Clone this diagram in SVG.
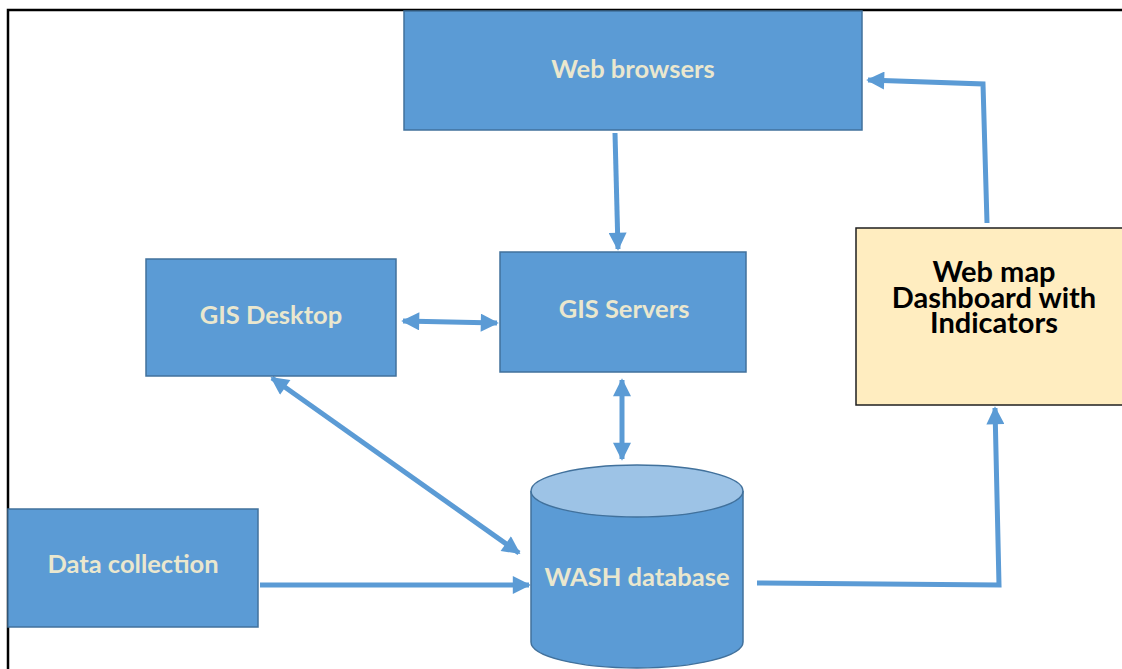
<svg xmlns="http://www.w3.org/2000/svg" width="1122" height="669" viewBox="0 0 1122 669">
  <defs>
    <style>
      .box { fill: #5B9BD5; stroke: #41719C; stroke-width: 1.5; }
      .lbl { font-family: Lato, "Liberation Sans", sans-serif; font-weight: bold; font-size: 25.5px; fill: #EAE7CE; text-anchor: middle; }
      .dark { font-family: Lato, "Liberation Sans", sans-serif; font-weight: bold; font-size: 29px; fill: #000; text-anchor: middle; }
      .conn { fill: none; stroke: #5B9BD5; stroke-width: 5; stroke-linejoin: miter; }
    </style>
    <marker id="head" viewBox="0 0 10 10" refX="9" refY="5" markerUnits="userSpaceOnUse" markerWidth="20" markerHeight="18" orient="auto-start-reverse">
      <path d="M0,0 L10,5 L0,10 z" fill="#5B9BD5"/>
    </marker>
  </defs>

  <rect width="1122" height="669" fill="#FFFFFF"/>
  <!-- page frame -->
  <path d="M8,669 V10 H1122" fill="none" stroke="#000" stroke-width="2.5"/>

  <g id="connectors">
    <path class="conn" d="M615,133 L618,249" marker-end="url(#head)"/>
    <path class="conn" d="M403,321 L497,323" marker-start="url(#head)" marker-end="url(#head)"/>
    <path class="conn" d="M622,380 L622,459" marker-start="url(#head)" marker-end="url(#head)"/>
    <path class="conn" d="M272,378 L519,553" marker-start="url(#head)" marker-end="url(#head)"/>
    <path class="conn" d="M260,585 L529,585" marker-end="url(#head)"/>
    <path class="conn" d="M757,583 L999,585 L995,408" marker-end="url(#head)"/>
    <path class="conn" d="M987,223 L983,84 L868,80" marker-end="url(#head)"/>
  </g>

  <g id="web-browsers">
    <rect class="box" x="404" y="11" width="458" height="119"/>
    <text class="lbl" x="633" y="78">Web browsers</text>
  </g>

  <g id="gis-desktop">
    <rect class="box" x="146" y="259" width="250" height="117"/>
    <text class="lbl" x="271" y="324">GIS Desktop</text>
  </g>

  <g id="gis-servers">
    <rect class="box" x="500" y="252" width="246" height="120"/>
    <text class="lbl" x="624" y="318">GIS Servers</text>
  </g>

  <g id="dashboard">
    <rect x="856" y="228" width="270" height="177" fill="#FFEDC0" stroke="#1F1F1F" stroke-width="1.5"/>
    <text class="dark" x="994" y="282"><tspan x="994">Web map</tspan><tspan x="994" dy="25.5">Dashboard with</tspan><tspan x="994" dy="25.5">Indicators</tspan></text>
  </g>

  <g id="data-collection">
    <rect class="box" x="8" y="509" width="250" height="118"/>
    <text class="lbl" x="133" y="573">Data collection</text>
  </g>

  <g id="wash-database">
    <path class="box" d="M531,491 V642 A106,26 0 0 0 743,642 V491"/>
    <ellipse cx="637" cy="491" rx="106" ry="26" fill="#9DC3E6" stroke="#41719C" stroke-width="1.5"/>
    <text class="lbl" x="637" y="586">WASH database</text>
  </g>
</svg>
